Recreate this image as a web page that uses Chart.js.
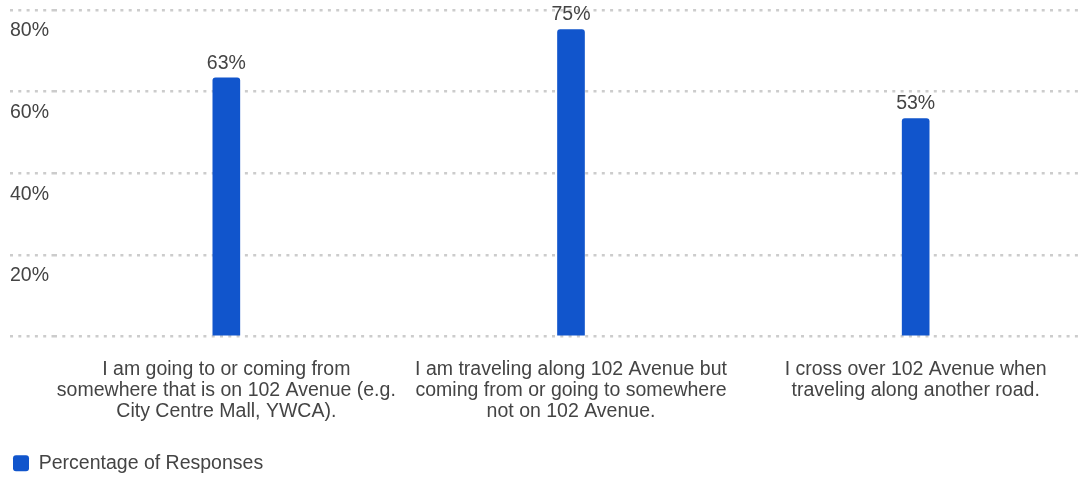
<!DOCTYPE html>
<html>
<head>
<meta charset="utf-8">
<script src="https://cdn.jsdelivr.net/npm/chart.js@4.4.1/dist/chart.umd.min.js"></script>
<style>
    html, body { margin: 0; padding: 0; background: #ffffff; overflow: hidden; }
    #wrap { position: relative; width: 1090px; height: 478px; }
</style>
</head>
<body>
<div id="wrap"><canvas id="responsesChart"></canvas></div>
<script>
// Chart data
const categories = [
    ['I am going to or coming from', 'somewhere that is on 102 Avenue (e.g.', 'City Centre Mall, YWCA).'],
    ['I am traveling along 102 Avenue but', 'coming from or going to somewhere', 'not on 102 Avenue.'],
    ['I cross over 102 Avenue when', 'traveling along another road.']
];
const percentages = [63.4, 75.2, 53.4];
const yTicks = [0, 20, 40, 60, 80];
const seriesName = 'Percentage of Responses';

const textColor = '#444444';
const barColor = '#1155cc';
const gridColor = '#cccccc';
const fontFamily = '"Liberation Sans", Arial, sans-serif';

// Draw value labels above each bar
const valueLabels = {
    id: 'valueLabels',
    afterDatasetsDraw(chart) {
        const ctx = chart.ctx;
        const meta = chart.getDatasetMeta(0);
        ctx.save();
        ctx.font = '19.5px ' + fontFamily;
        ctx.fillStyle = textColor;
        ctx.textAlign = 'center';
        ctx.textBaseline = 'middle';
        meta.data.forEach((bar, i) => {
            ctx.fillText(Math.round(percentages[i]) + '%', bar.x, bar.y - 14.5);
        });
        ctx.restore();
    }
};

new Chart(document.getElementById('responsesChart'), {
    type: 'bar',
    data: {
        labels: categories,
        datasets: [{
            label: seriesName,
            data: percentages,
            backgroundColor: barColor,
            borderRadius: 3,
            borderSkipped: 'bottom',
            barThickness: 27
        }]
    },
    options: {
        responsive: true,
        maintainAspectRatio: false,
        animation: false,
        layout: {
            padding: { left: 10, top: 10, right: 2, bottom: -5 }
        },
        plugins: {
            legend: {
                position: 'bottom',
                align: 'start',
                labels: {
                    color: textColor,
                    font: { family: fontFamily, size: 19.5, lineHeight: '23px' },
                    boxWidth: 16,
                    boxHeight: 16,
                    padding: 3,
                    useBorderRadius: true,
                    borderRadius: 3
                }
            },
            tooltip: { enabled: false }
        },
        scales: {
            x: {
                grid: { display: false },
                border: { display: false },
                afterFit: function(scale) {
                    scale.height += 13;
                },
                ticks: {
                    color: textColor,
                    font: { family: fontFamily, size: 19.5, lineHeight: '21px' },
                    padding: 15,
                    maxRotation: 0,
                    autoSkip: false
                }
            },
            y: {
                min: 0,
                max: 80,
                afterBuildTicks: function(scale) {
                    scale.ticks = yTicks.map(v => ({ value: v }));
                },
                afterFit: function(scale) {
                    scale.width = 44;
                    scale.paddingTop = 0;
                    scale.paddingBottom = 0;
                },
                border: { display: false, dash: [3, 5.3] },
                grid: {
                    color: gridColor,
                    lineWidth: 2.5,
                    tickColor: gridColor,
                    tickBorderDash: [3, 5.3],
                    tickLength: 44
                },
                ticks: {
                    color: textColor,
                    font: { family: fontFamily, size: 19.5 },
                    crossAlign: 'far',
                    labelOffset: 21,
                    padding: 0,
                    callback: function(value) {
                        return value === 0 ? '' : value + '%';
                    }
                }
            }
        }
    },
    plugins: [valueLabels]
});
</script>
</body>
</html>
